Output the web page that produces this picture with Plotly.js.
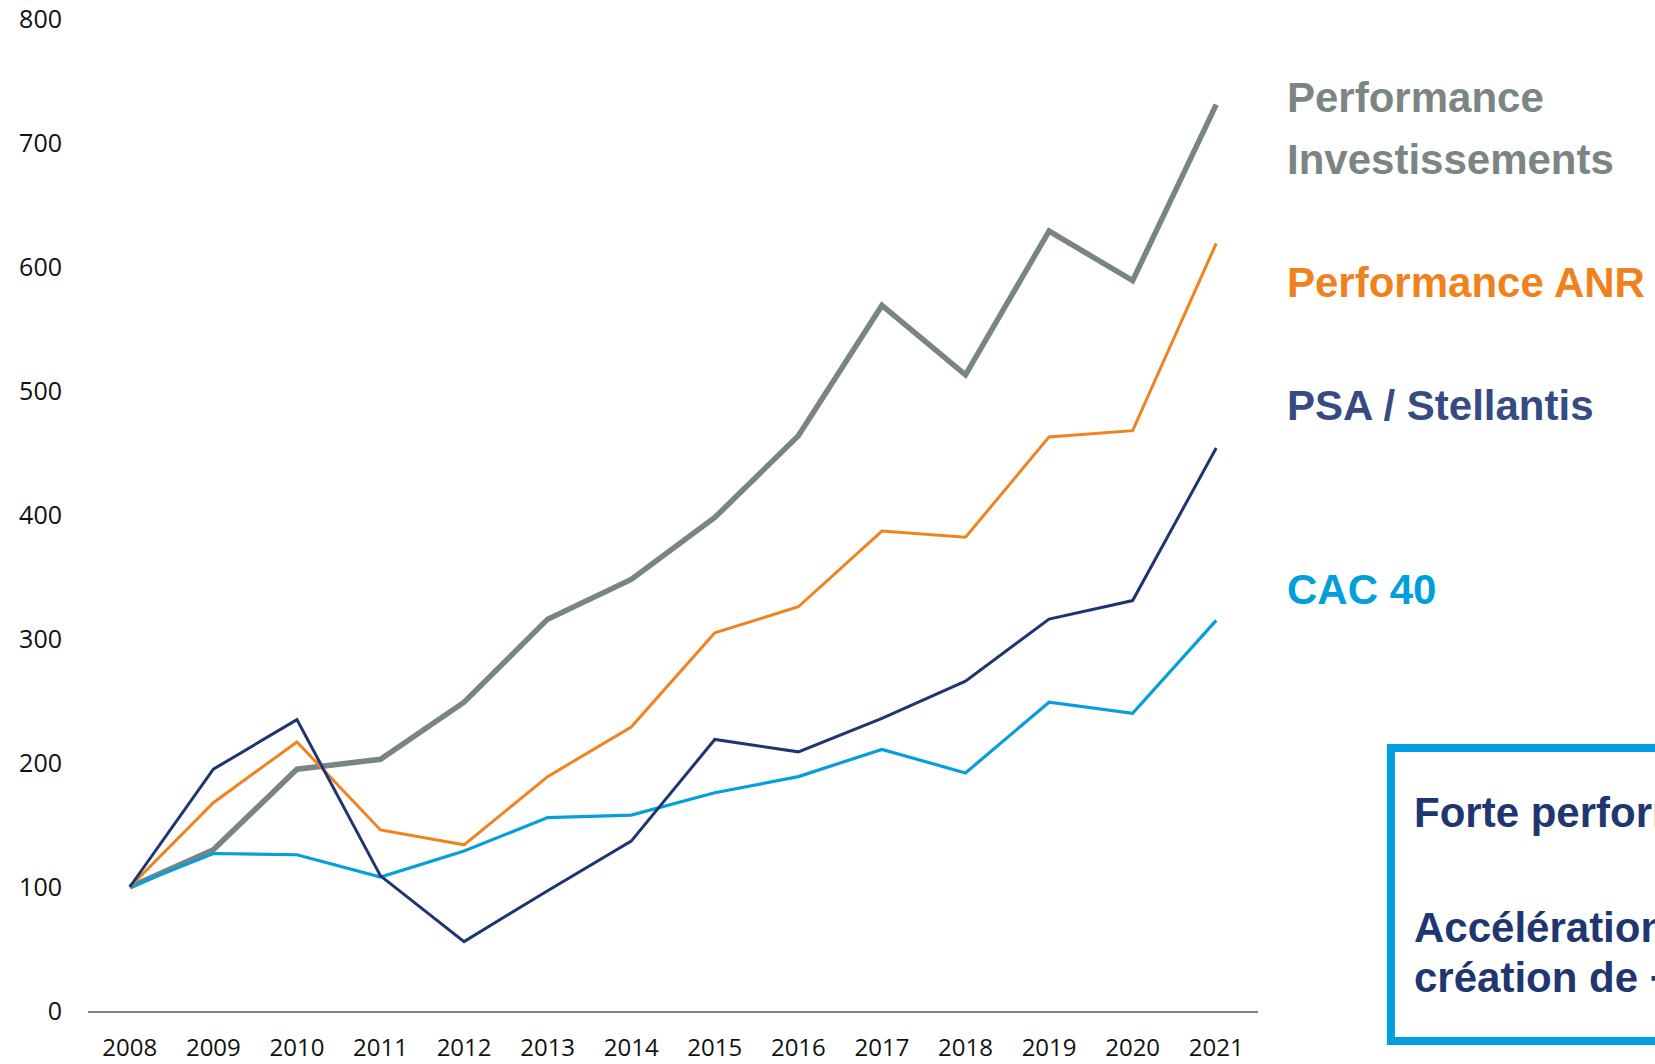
<!DOCTYPE html>
<html>
<head>
<meta charset="utf-8">
<script src="https://cdn.plot.ly/plotly-3.0.1.min.js"></script>
<style>html,body{margin:0;padding:0;background:#fff;overflow:hidden}</style>
</head>
<body>
<div id="chart" style="width:1655px;height:1064px"></div>
<script>
const years = ['2008','2009','2010','2011','2012','2013','2014','2015','2016','2017','2018','2019','2020','2021'];
const perfInvest = [100,130,195,203,249,316,348,398,464,569,513,629,589,731];
const perfANR    = [100,168,217,146,134,189,229,305,326,387,382,463,468,619];
const psa        = [100,195,235,109,56,97,137,219,209,236,266,316,331,454];
const cac40      = [100,127,126,108,129,156,158,176,189,211,192,249,240,315];
const yTicks = [0,100,200,300,400,500,600,700,800];

const seriesNames = ['Performance Investissements','CAC 40','Performance ANR','PSA / Stellantis'];

const traces = [
  {x: years, y: perfInvest, name: seriesNames[0], mode:'lines', line:{color:'#778583', width:5.5}},
  {x: years, y: cac40, name: seriesNames[1], mode:'lines', line:{color:'#069fdc', width:3.2}},
  {x: years, y: perfANR, name: seriesNames[2], mode:'lines', line:{color:'#f0821f', width:3}},
  {x: years, y: psa, name: seriesNames[3], mode:'lines', line:{color:'#1e3573', width:3}}
];

const lblFont = (c) => ({family:'Liberation Sans, Arial, sans-serif', size:42, color:c, weight:'bold'});
const boxFont = {family:'Liberation Sans, Arial, sans-serif', size:42, color:'#1f3670', weight:'bold'};

const annotations = [
  {text:'<b>Performance</b>', x:1.0232, y:0.9204, font:lblFont('#7b8584')},
  {text:'<b>Investissements</b>', x:1.0232, y:0.8579, font:lblFont('#7b8584')},
  {text:'<b>Performance ANR</b>', x:1.0232, y:0.7339, font:lblFont('#f0821e')},
  {text:'<b>PSA / Stellantis</b>', x:1.0232, y:0.6099, font:lblFont('#354b82')},
  {text:'<b>CAC 40</b>', x:1.0232, y:0.4244, font:lblFont('#009edb')},
  {text:'<b>Forte performance</b>', x:1.1315, y:0.2006, font:boxFont},
  {text:'<b>Accélération de la</b>', x:1.1315, y:0.0837, font:boxFont},
  {text:'<b>création de +</b>', x:1.1315, y:0.0333, font:boxFont}
].map(a => Object.assign({xref:'paper', yref:'paper', xanchor:'left', yanchor:'middle', showarrow:false}, a));

const layout = {
  width:1655, height:1064,
  margin:{l:87.6, r:397, t:19, b:53},
  paper_bgcolor:'#ffffff', plot_bgcolor:'#ffffff',
  showlegend:false,
  font:{family:'Open Sans, sans-serif', color:'#111111'},
  xaxis:{
    type:'category', range:[-0.5,13.5], showgrid:false, zeroline:false,
    showline:true, linecolor:'#808080', linewidth:1.5,
    ticks:'', tickfont:{size:24, family:'Open Sans, sans-serif', color:'#111'},
    ticklabelstandoff:15
  },
  yaxis:{
    range:[0,800], tickvals:yTicks, ticktext:yTicks.map(String),
    showgrid:false, zeroline:false, showline:false, ticks:'',
    tickfont:{size:25, family:'Open Sans, sans-serif', color:'#111'},
    ticklabelstandoff:25
  },
  shapes:[
    {type:'rect', xref:'paper', yref:'paper', x0:1.1136, x1:1.5, y0:-0.0302, y1:0.2651,
     line:{color:'#009fdf', width:8}, fillcolor:'rgba(0,0,0,0)', layer:'above'}
  ],
  annotations: annotations
};

Plotly.newPlot('chart', traces, layout, {displayModeBar:false, staticPlot:true});
</script>
</body>
</html>
